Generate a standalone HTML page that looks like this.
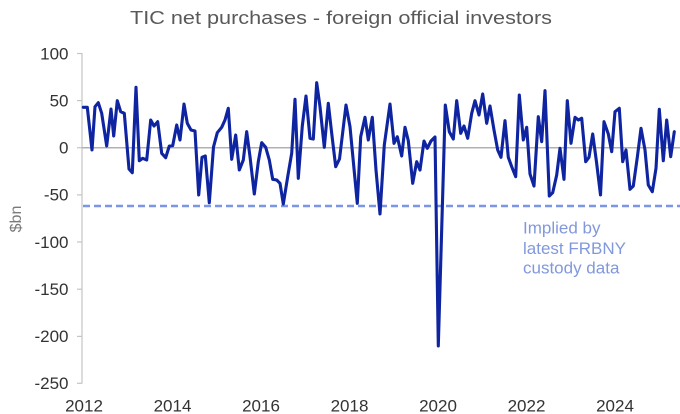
<!DOCTYPE html>
<html>
<head>
<meta charset="utf-8">
<style>
  html,body{margin:0;padding:0;background:#ffffff;}
  svg{display:block;}
  text{font-family:"Liberation Sans",Arial,sans-serif;}
</style>
</head>
<body>
<svg width="680" height="414" viewBox="0 0 680 414" xmlns="http://www.w3.org/2000/svg">
  <rect x="0" y="0" width="680" height="414" fill="#ffffff"/>
  <!-- Title -->
  <text x="341" y="24" font-size="18" fill="#595959" text-anchor="middle" textLength="422" lengthAdjust="spacingAndGlyphs">TIC net purchases - foreign official investors</text>

  <!-- Y axis line and ticks -->
  <line x1="82" y1="53" x2="82" y2="383.5" stroke="#c4c4c4" stroke-width="1.2"/>
  <g stroke="#c4c4c4" stroke-width="1.2">
    <line x1="77" y1="53.5" x2="82" y2="53.5"/>
    <line x1="77" y1="100.6" x2="82" y2="100.6"/>
    <line x1="77" y1="147.7" x2="82" y2="147.7"/>
    <line x1="77" y1="194.9" x2="82" y2="194.9"/>
    <line x1="77" y1="242" x2="82" y2="242"/>
    <line x1="77" y1="289.2" x2="82" y2="289.2"/>
    <line x1="77" y1="336.4" x2="82" y2="336.4"/>
    <line x1="77" y1="383.3" x2="82" y2="383.3"/>
  </g>
  <!-- zero line -->
  <line x1="82" y1="147.7" x2="680" y2="147.7" stroke="#b0b0b0" stroke-width="1.5"/>

  <!-- Y labels -->
  <g font-size="17" fill="#333333" text-anchor="end">
    <text x="68.5" y="59.3">100</text>
    <text x="68.5" y="106.4">50</text>
    <text x="68.5" y="153.5">0</text>
    <text x="68.5" y="200.7">-50</text>
    <text x="68.5" y="247.8">-100</text>
    <text x="68.5" y="295">-150</text>
    <text x="68.5" y="342.2">-200</text>
    <text x="68.5" y="389.1">-250</text>
  </g>
  <!-- Y axis title -->
  <text x="0" y="0" font-size="16" fill="#7a7a7a" text-anchor="middle" transform="translate(21,219) rotate(-90)">$bn</text>

  <!-- X labels -->
  <g font-size="17" fill="#333333" text-anchor="middle">
    <text x="84" y="411.5">2012</text>
    <text x="172.5" y="411.5">2014</text>
    <text x="261" y="411.5">2016</text>
    <text x="349.5" y="411.5">2018</text>
    <text x="438" y="411.5">2020</text>
    <text x="526.5" y="411.5">2022</text>
    <text x="615" y="411.5">2024</text>
  </g>

  <!-- Dashed line -->
  <line x1="83" y1="206" x2="680" y2="206" stroke="#7b96e6" stroke-width="2.5" stroke-dasharray="7,4"/>

  <!-- Annotation -->
  <g font-size="17" fill="#8199dc">
    <text x="523" y="233.3">Implied by</text>
    <text x="523" y="253.8">latest FRBNY</text>
    <text x="523" y="273.6">custody data</text>
  </g>

  <!-- Series -->
  <polyline fill="none" stroke="#0f24a0" stroke-width="3.1" stroke-linejoin="round" stroke-linecap="round" points="
83.3,107.3 87.3,107.3 92,150 95,106.7 98.3,102.7 101.7,113.3 106.7,146 111,109 113.7,136 117.3,100.7 120.7,111.7 124.3,113.3 129,169 132.3,172.7 136,87.3 139.3,160.7 142.7,158.3 146.7,160 150.7,120 154,126 157.7,121.7 161.7,153.3 165.7,157.7 169.3,146 172.7,145.7 176.7,125 180,140 184,104 187.3,123.3 191,130 195,131 198.7,195 202,157.3 205.3,156 209.3,202.7 213.5,147 217.3,132.7 221.7,127.3 225,120 228.3,108.3 231.7,159.3 235.7,135 239.3,170 243.3,160 246.7,131.7 250,156.7 254.3,194 258.3,161.7 261.7,142.7 265.7,147.3 269.3,160 272.7,179.3 276.7,180 280,183.3 283.3,204 287.7,176.7 291.7,153.3 295,99.3 298.3,178.3 302.3,126 306,96 310,138.3 313.3,139 316.7,82.7 320,106.7 324.3,147.3 328.3,103.3 331.7,133.3 335.7,166.7 339.5,159 346,105 350,126.7 357.3,203.3 360.7,136.7 365,117.3 368.3,140 372.3,117.3 376,170 380,214 384.3,145 390,104 394,143.3 397.3,136.7 401.7,156 405,127.3 408.3,140.7 412.7,183.3 416.7,161.7 420,170 424,141 427.3,148.3 431,141 435,137 438.3,346 445.3,105 449.3,131.7 453.3,139 456.7,100.7 460.7,133.3 464,126 467.7,138.3 471.7,113.3 475,100.7 479,115 482.7,94 486.7,123.3 490,106 494,130 497.7,150 501,157.3 505,120.7 508.3,157.3 511.7,166.7 515.7,176.7 519.3,95 523.3,140 526.7,127.3 530,174 534,186 538.3,116.7 541.7,141.7 545,90.7 549.3,196 552.7,192.7 556.7,175 560,148.3 564,179.3 567.3,100.7 571,143.3 575,117.3 578.3,120 581.7,118.3 585.7,161.7 589,157.3 592.7,134 596.5,162 600.5,195 604,121.7 608.3,134 611.7,151.7 615,111.7 619.3,108.3 622.7,161.7 626,150 630,189.3 633.3,186 637.3,157.3 641,128.3 645,150 648.3,185 652.3,191.7 656,168.3 659.3,109.3 663.3,160.7 666.7,120 670.7,156.7 674.3,131.7"/>
</svg>
</body>
</html>
